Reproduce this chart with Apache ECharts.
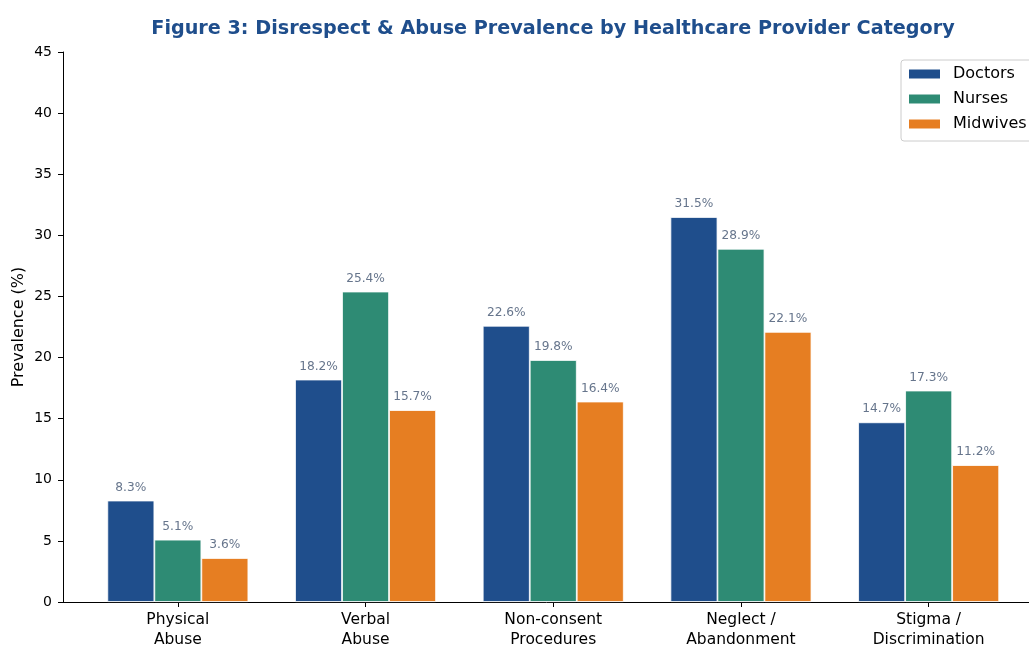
<!DOCTYPE html>
<html><head><meta charset="utf-8">
<script src="https://cdn.jsdelivr.net/npm/echarts@6/dist/echarts.min.js"></script>
<style>html,body{margin:0;padding:0;background:#fff}#c{width:1029px;height:648px}</style>
</head><body><div id="c"></div>
<script>
const categories = ['Physical\nAbuse', 'Verbal\nAbuse', 'Non-consent\nProcedures', 'Neglect /\nAbandonment', 'Stigma /\nDiscrimination'];
const doctors = [8.3, 18.2, 22.6, 31.5, 14.7];
const nurses = [5.1, 25.4, 19.8, 28.9, 17.3];
const midwives = [3.6, 15.7, 16.4, 22.1, 11.2];
const seriesNames = ['Doctors', 'Nurses', 'Midwives'];
const colors = ['#1f4e8c', '#2e8b74', '#e67e22'];
const yTicks = [0, 5, 10, 15, 20, 25, 30, 35, 40, 45];

const FONT = 'DejaVu Sans';
const chart = echarts.init(document.getElementById('c'), null, {renderer: 'canvas'});
const mk = (name, data, color) => ({
  name, type: 'bar', data, xAxisIndex: 0, yAxisIndex: 0,
  barWidth: 47, barGap: '0%',
  itemStyle: {color, borderColor: '#ffffff', borderWidth: 0.8},
  label: {show: true, position: 'top', distance: 7, formatter: p => p.value.toFixed(1) + '%',
    color: '#66758c', fontFamily: FONT, fontSize: 12.2}
});
chart.setOption({
  animation: false,
  textStyle: {fontFamily: FONT},
  title: {text: 'Figure 3: Disrespect & Abuse Prevalence by Healthcare Provider Category',
    left: 548, textAlign: 'center', top: 15,
    textStyle: {color: '#1f4e8c', fontFamily: FONT, fontWeight: 'bold', fontSize: 19.2}},
  legend: {data: seriesNames, orient: 'vertical', left: 901, top: 60, icon: 'rect',
    itemWidth: 33, itemHeight: 11, itemGap: 9, padding: [6, 30, 9, 6],
    borderColor: '#cccccc', borderWidth: 1, borderRadius: 3, backgroundColor: '#fff',
    textStyle: {fontFamily: FONT, fontSize: 16, lineHeight: 16, color: '#000', padding: [0, 0, 0, 7]}},
  grid: [
    {left: 84, width: 938.5, top: 52, bottom: 46, containLabel: false, outerBoundsMode: 'none'},
    {left: 63, right: -14, top: 52, bottom: 46, containLabel: false, outerBoundsMode: 'none'}
  ],
  xAxis: [
    {type: 'category', gridIndex: 0, data: categories,
      axisLine: {show: false},
      axisTick: {show: true, alignWithLabel: true, length: 5, lineStyle: {color: '#000'}},
      axisLabel: {fontFamily: FONT, fontSize: 15.5, color: '#000', margin: 8, lineHeight: 20}},
    {type: 'value', gridIndex: 1, min: 0, max: 1,
      axisLine: {show: true, onZero: false, lineStyle: {color: '#000', width: 1}},
      axisTick: {show: false}, axisLabel: {show: false}, splitLine: {show: false}}
  ],
  yAxis: [
    {type: 'value', gridIndex: 0, min: 0, max: 45, interval: 5, show: false, splitLine: {show: false}},
    {type: 'value', gridIndex: 1, min: 0, max: 45, interval: 5,
      name: 'Prevalence (%)', nameLocation: 'middle', nameGap: 36, nameMoveOverlap: false,
      nameTextStyle: {fontFamily: FONT, fontSize: 16, color: '#000'},
      axisLine: {show: true, lineStyle: {color: '#000', width: 1}},
      axisTick: {show: true, length: 5, lineStyle: {color: '#000'}},
      axisLabel: {fontFamily: FONT, fontSize: 14, color: '#000', margin: 11,
        formatter: v => yTicks.includes(v) ? String(v) : ''},
      splitLine: {show: false}}
  ],
  series: [
    mk(seriesNames[0], doctors, colors[0]),
    mk(seriesNames[1], nurses, colors[1]),
    mk(seriesNames[2], midwives, colors[2])
  ]
});
</script></body></html>
